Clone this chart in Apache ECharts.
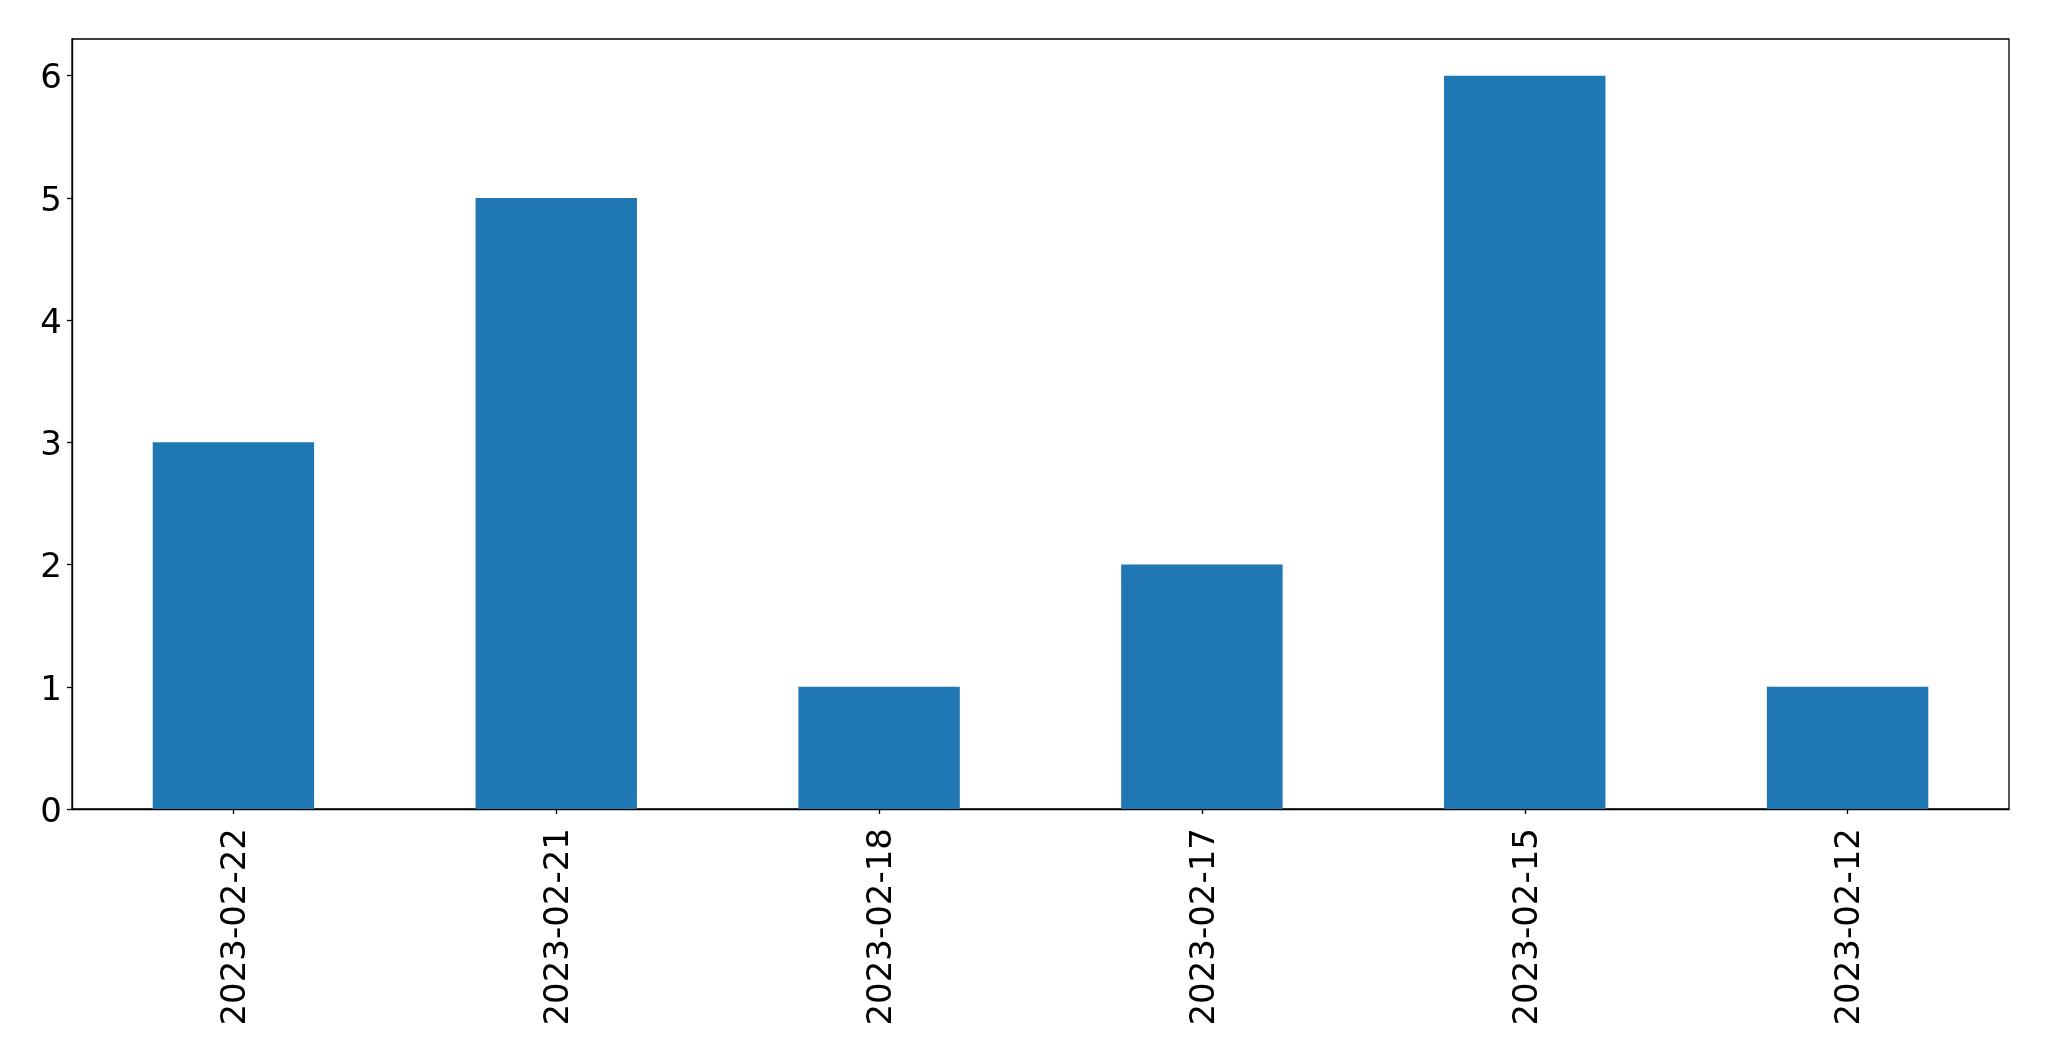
<!DOCTYPE html>
<html>
<head>
<meta charset="utf-8">
<script src="https://cdn.jsdelivr.net/npm/echarts@6/dist/echarts.min.js"></script>
<style>html,body{margin:0;padding:0;background:#fff;}#c{width:2049px;height:1061px;}</style>
</head>
<body>
<div id="c"></div>
<script>
const categories = ['2023-02-22','2023-02-21','2023-02-18','2023-02-17','2023-02-15','2023-02-12'];
const values = [3, 5, 1, 2, 6, 1];
const yTicks = [0, 1, 2, 3, 4, 5, 6];

const chart = echarts.init(document.getElementById('c'), null, {renderer: 'canvas'});
chart.setOption({
  animation: false,
  backgroundColor: '#ffffff',
  grid: {left: 72, right: 40, top: 39, bottom: 252, show: true, borderColor: '#000', borderWidth: 1.3, backgroundColor: 'transparent'},
  xAxis: {
    type: 'category',
    data: categories,
    boundaryGap: true,
    axisLine: {show: true, lineStyle: {color: '#000', width: 1.3}},
    axisTick: {show: true, alignWithLabel: true, length: 5, lineStyle: {color: '#000', width: 1.3}},
    axisLabel: {rotate: 90, margin: 19, color: '#000', fontSize: 34, fontFamily: 'DejaVu Sans', interval: 0, verticalAlign: 'top', lineHeight: 6},
    splitLine: {show: false}
  },
  yAxis: {
    type: 'value',
    min: 0,
    max: 6.3,
    interval: 1,
    axisLine: {show: true, lineStyle: {color: '#000', width: 1.3}},
    axisTick: {show: true, length: 5, customValues: yTicks, lineStyle: {color: '#000', width: 1.3}},
    axisLabel: {margin: 10, color: '#000', fontSize: 34, fontFamily: 'DejaVu Sans', customValues: yTicks, verticalAlign: 'top', lineHeight: 8},
    splitLine: {show: false}
  },
  series: [{
    type: 'bar',
    data: values,
    barWidth: '50%',
    itemStyle: {color: '#1f77b4'}
  }]
});
</script>
</body>
</html>
